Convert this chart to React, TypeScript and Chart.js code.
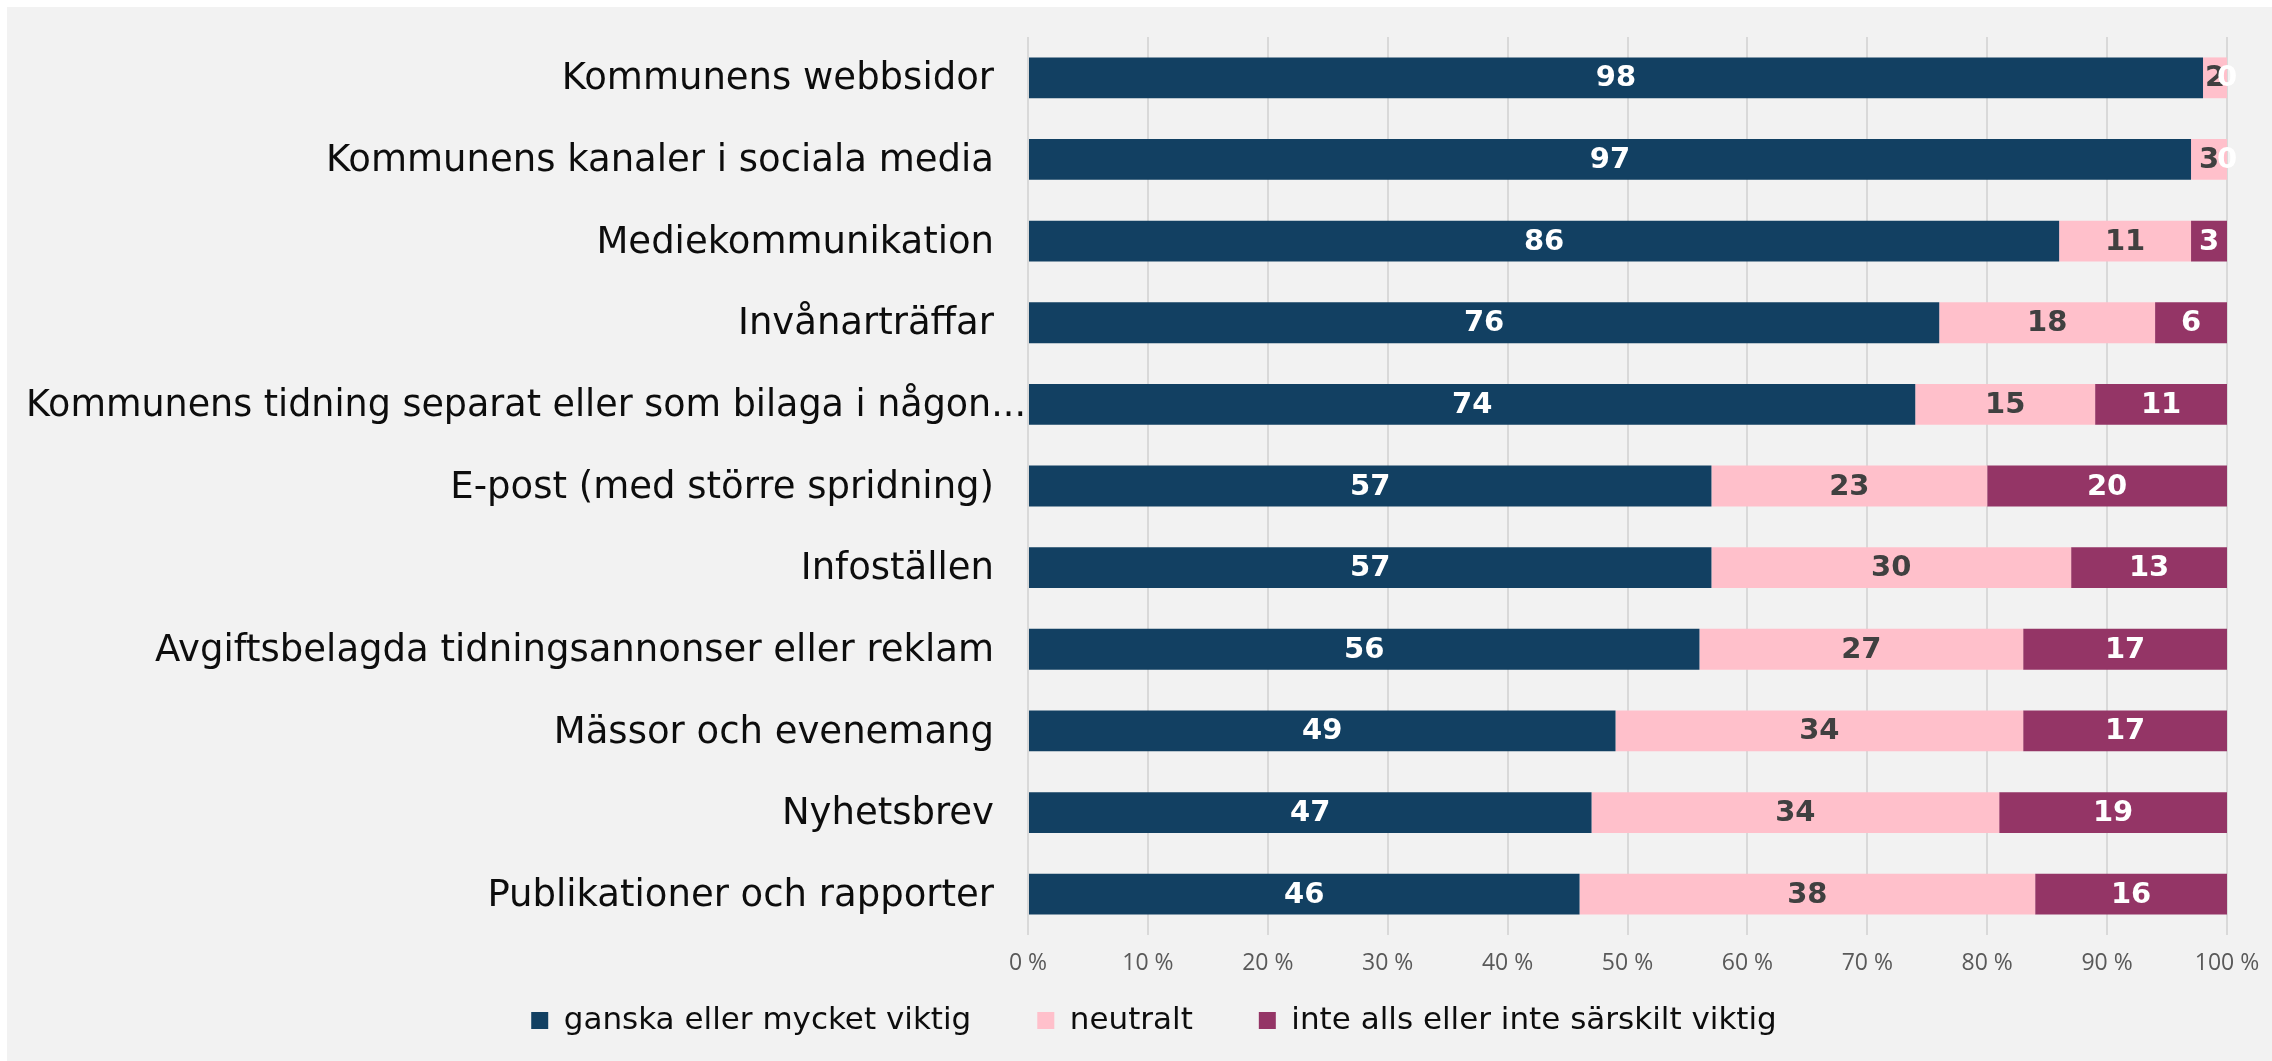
import { useEffect, useRef } from "react";
import { Chart, registerables } from "chart.js";

Chart.register(...registerables);

const categories = [
  "Kommunens webbsidor",
  "Kommunens kanaler i sociala media",
  "Mediekommunikation",
  "Invånarträffar",
  "Kommunens tidning separat eller som bilaga i någon...",
  "E-post (med större spridning)",
  "Infoställen",
  "Avgiftsbelagda tidningsannonser eller reklam",
  "Mässor och evenemang",
  "Nyhetsbrev",
  "Publikationer och rapporter",
];

const importantValues = [98, 97, 86, 76, 74, 57, 57, 56, 49, 47, 46];
const neutralValues = [2, 3, 11, 18, 15, 23, 30, 27, 34, 34, 38];
const notImportantValues = [0, 0, 3, 6, 11, 20, 13, 17, 17, 19, 16];

const seriesNames = [
  "ganska eller mycket viktig",
  "neutralt",
  "inte alls eller inte särskilt viktig",
];

const seriesColors = ["#124062", "#ffc0cb", "#943566"];
const valueLabelColors = ["#ffffff", "#404040", "#ffffff"];

const PLOT_LEFT = 1021;
const PAD_LEFT = 74;
const PAD_RIGHT = 45;

const labelPlugin = {
  id: "customLabels",
  afterDraw(chart: any) {
    const ctx = chart.ctx;
    const yScale = chart.scales.y;
    ctx.save();
    // category labels
    ctx.font = "37px 'DejaVu Sans'";
    ctx.fillStyle = "#0d0d0d";
    ctx.textBaseline = "middle";
    const right = chart.chartArea.left - 34;
    categories.forEach((c, i) => {
      const py = yScale.getPixelForValue(i) + 2;
      const w = ctx.measureText(c).width;
      if (right - w < 19) {
        ctx.textAlign = "left";
        ctx.fillText(c, 19, py, chart.chartArea.left - 21);
      } else {
        ctx.textAlign = "right";
        ctx.fillText(c, right, py);
      }
    });
    // value labels
    ctx.font = "bold 29px 'DejaVu Sans'";
    ctx.textAlign = "center";
    ctx.textBaseline = "middle";
    chart.data.datasets.forEach((ds: any, di: number) => {
      const meta = chart.getDatasetMeta(di);
      meta.data.forEach((bar: any, i: number) => {
        const p = bar.getProps(["x", "y", "base"], true);
        const cx = (p.x + p.base) / 2;
        ctx.fillStyle = valueLabelColors[di];
        ctx.fillText(String(ds.data[i]), cx, p.y + 1);
      });
    });
    ctx.restore();
  },
};

export default function App() {
  const canvasRef = useRef<HTMLCanvasElement | null>(null);

  useEffect(() => {
    if (!canvasRef.current) return;
    const chart = new Chart(canvasRef.current, {
      type: "bar",
      data: {
        labels: categories,
        datasets: [importantValues, neutralValues, notImportantValues].map((d, i) => ({
          label: seriesNames[i],
          data: d,
          backgroundColor: seriesColors[i],
          borderWidth: 0,
          barPercentage: 0.5,
          categoryPercentage: 1.0,
        })),
      },
      options: {
        indexAxis: "y",
        animation: false,
        responsive: true,
        maintainAspectRatio: false,
        devicePixelRatio: 1,
        layout: { padding: { left: PAD_LEFT, right: PAD_RIGHT, top: 30, bottom: 15 } },
        scales: {
          x: {
            stacked: true,
            min: 0,
            max: 100,
            ticks: {
              stepSize: 10,
              callback: (v: any) => `${v} %`,
              font: { family: "'Open Sans'", size: 23 },
              color: "#595959",
              padding: 15,
              maxRotation: 0,
              autoSkip: false,
            },
            grid: { color: "#d9d9d9", lineWidth: 2, drawTicks: false },
            border: { display: false },
            afterFit: (s: any) => {
              s.height = 4;
              s.paddingLeft = 0;
              s.paddingRight = 0;
              s._computeLabelArea = () => undefined;
            },
          },
          y: {
            stacked: true,
            ticks: { display: false },
            grid: { display: false },
            border: { display: false },
            afterFit: (s: any) => {
              s.width = PLOT_LEFT - PAD_LEFT;
            },
          },
        },
        plugins: {
          legend: {
            position: "bottom",
            labels: {
              boxWidth: 17,
              boxHeight: 17,
              padding: 66,
              color: "#0d0d0d",
              font: { family: "'DejaVu Sans'", size: 31 },
            },
          },
          tooltip: { enabled: false },
        },
      },
      plugins: [labelPlugin],
    } as any);
    return () => chart.destroy();
  }, []);

  return (
    <div style={{ position: "fixed", inset: 0, background: "#ffffff" }}>
      <div
        style={{
          position: "absolute",
          left: 7,
          top: 7,
          width: 2265,
          height: 1054,
          background: "#f2f2f2",
        }}
      >
        <canvas ref={canvasRef} />
      </div>
    </div>
  );
}
